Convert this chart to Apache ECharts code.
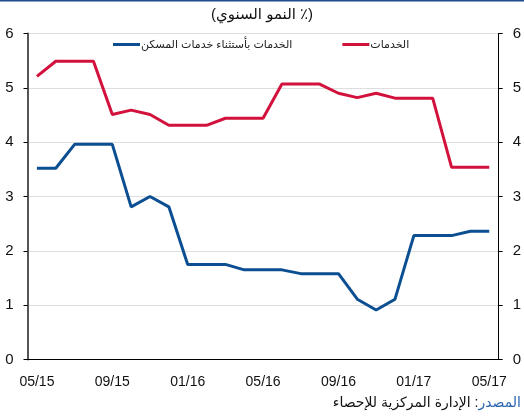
<!DOCTYPE html>
<html>
<head>
<meta charset="utf-8">
<script src="https://cdn.jsdelivr.net/npm/echarts@6/dist/echarts.min.js"></script>
<style>
  html, body { margin: 0; padding: 0; background: #fff; }
  #chart { width: 524px; height: 417px; }
</style>
</head>
<body>
<div id="chart"></div>
<script>
// months 05/15 .. 05/17
var months = ['05/15','06/15','07/15','08/15','09/15','10/15','11/15','12/15',
              '01/16','02/16','03/16','04/16','05/16','06/16','07/16','08/16',
              '09/16','10/16','11/16','12/16','01/17','02/17','03/17','04/17','05/17'];
// الخدمات
var services = [5.21, 5.49, 5.49, 5.49, 4.51, 4.59, 4.51, 4.31, 4.31, 4.31, 4.44, 4.44, 4.44,
                5.07, 5.07, 5.07, 4.90, 4.82, 4.90, 4.81, 4.81, 4.81, 3.54, 3.54, 3.54];
// الخدمات بأستثناء خدمات المسكن
var servicesExHousing = [3.52, 3.52, 3.96, 3.96, 3.96, 2.81, 3.00, 2.81, 1.75, 1.75, 1.75, 1.65, 1.65,
                         1.65, 1.58, 1.58, 1.58, 1.11, 0.91, 1.11, 2.28, 2.28, 2.28, 2.36, 2.36];
var yTicks = [0, 1, 2, 3, 4, 5, 6];

var nameEx = 'الخدمات بأستثناء خدمات المسكن';
var nameSrv = 'الخدمات';
var blue = '#0b4f92';
var red = '#d2123c';
var font = 'Arial, "Liberation Sans", "DejaVu Sans", sans-serif';

var myChart = echarts.init(document.getElementById('chart'));

var yAxisBase = {
    type: 'value',
    min: yTicks[0],
    max: yTicks[yTicks.length - 1],
    interval: 1,
    axisTick: { show: true, length: 4, lineStyle: { color: '#000' } },
    axisLabel: { color: '#111', fontSize: 15, fontFamily: font }
};

var option = {
    animation: false,
    backgroundColor: '#fff',
    title: {
        text: '(النمو السنوي ٪)',
        left: 'center',
        top: 2,
        textStyle: { fontSize: 15, fontWeight: 'normal', color: '#111', fontFamily: font }
    },
    legend: {
        left: 108,
        top: 34,
        itemGap: 50,
        itemWidth: 27,
        itemHeight: 3,
        icon: 'rect',
        data: [nameEx, nameSrv],
        textStyle: { fontSize: 11, color: '#222', fontFamily: font, padding: [0, 0, 0, -4] }
    },
    grid: { left: 27.5, right: 25, top: 33.5, bottom: 57.5, containLabel: false },
    xAxis: {
        type: 'category',
        data: months,
        boundaryGap: true,
        axisLine: { lineStyle: { color: '#000', width: 1 } },
        axisTick: { interval: 3, length: 4, lineStyle: { color: '#000' } },
        axisLabel: { interval: 3, color: '#111', fontSize: 14, fontFamily: font, margin: 16 },
        splitLine: { show: false }
    },
    yAxis: [
        Object.assign({}, yAxisBase, {
            position: 'left',
            axisLine: { show: true, lineStyle: { color: '#555', width: 2 } },
            axisLabel: Object.assign({}, yAxisBase.axisLabel, { margin: 14 }),
            splitLine: { show: true, lineStyle: { color: '#bdbdbd', type: 'dotted', width: 1 } }
        }),
        Object.assign({}, yAxisBase, {
            position: 'right',
            axisLine: { show: true, lineStyle: { color: '#000', width: 1 } },
            axisLabel: Object.assign({}, yAxisBase.axisLabel, { margin: 14 }),
            splitLine: { show: false }
        })
    ],
    series: [
        {
            name: nameEx,
            type: 'line',
            data: servicesExHousing,
            symbol: 'none',
            color: blue,
            lineStyle: { color: blue, width: 3 }
        },
        {
            name: nameSrv,
            type: 'line',
            data: services,
            symbol: 'none',
            color: red,
            lineStyle: { color: red, width: 3 }
        }
    ],
    graphic: [
        {
            type: 'rect',
            shape: { x: 0, y: 0, width: 524, height: 1.5 },
            style: { fill: '#1f4e8c' },
            silent: true
        },
        {
            type: 'text',
            right: 3,
            top: 396,
            style: {
                text: '{b|الإدارة المركزية للإحصاء :}{a|المصدر}',
                rich: {
                    a: { fill: '#2a64b0', fontSize: 14, fontFamily: font },
                    b: { fill: '#111', fontSize: 14, fontFamily: font }
                }
            }
        }
    ]
};

myChart.setOption(option);
</script>
</body>
</html>
